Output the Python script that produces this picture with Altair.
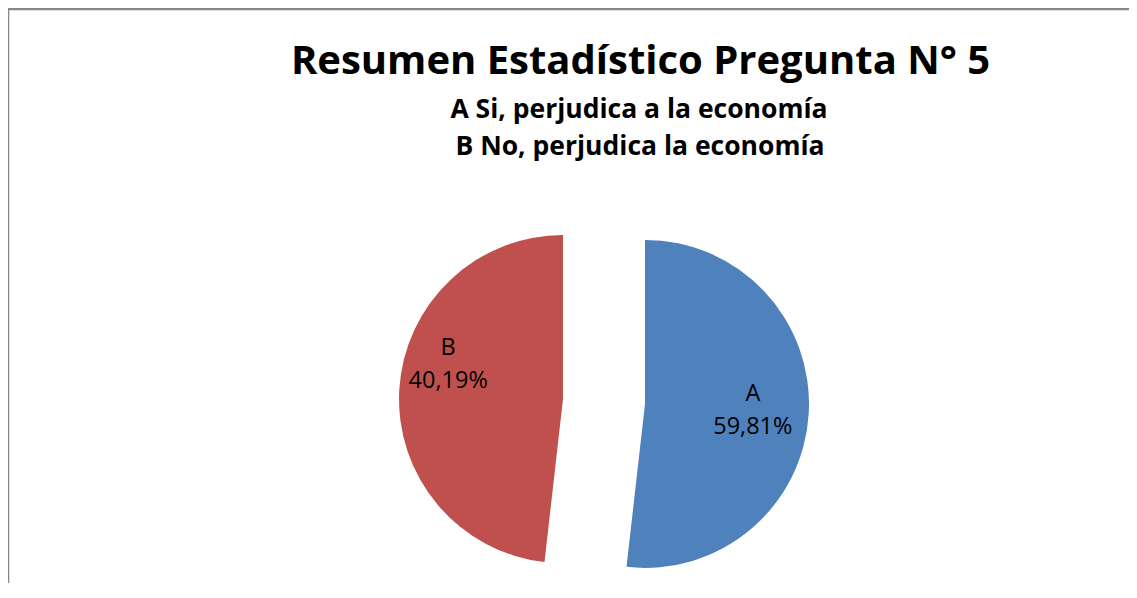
import altair as alt
import pandas as pd

# Data
categories = ["A", "B"]
shares = [51.8, 48.2]            # slice sizes as drawn (share of the circle)
pct_labels = ["59,81%", "40,19%"]  # label texts as printed
colors = ["#4F81BD", "#C0504D"]

title = "Resumen Estadístico Pregunta N° 5"
subtitle_lines = ["A Si, perjudica a la economía", "B No, perjudica la economía"]

W, H = 1121, 575
CX, CY = 596, 393.5
R = 164
EXPLODE = {"A": (41, 2.4), "B": (-41, -2.4)}
LABEL_ADJ = {"A": (0, -16), "B": (5, -44)}
LABEL_R = {"A": 108, "B": 120}
FONT = "Open Sans"

df = pd.DataFrame({
    "cat": categories,
    "share": shares,
    "label": [f"{c}\n{p}" for c, p in zip(categories, pct_labels)],
    "order": [0, 1],
})

base = alt.Chart(df)
color = alt.Color("cat:N", scale=alt.Scale(domain=categories, range=colors), legend=None)
theta = alt.Theta("share:Q", stack=True)

layers = []
for cat in categories:
    ox, oy = EXPLODE[cat]
    sel = alt.datum.cat == cat
    arc = base.mark_arc(radius=R, xOffset=ox, yOffset=oy).encode(
        theta=theta,
        color=color,
        order=alt.Order("order:Q"),
        opacity=alt.condition(sel, alt.value(1), alt.value(0)),
        x=alt.value(CX),
        y=alt.value(CY),
    )
    ax, ay = LABEL_ADJ[cat]
    txt = base.mark_text(
        radius=LABEL_R[cat], lineBreak="\n", font=FONT, fontSize=23.5,
        lineHeight=33, color="#000000", align="center", baseline="middle",
        dx=ox + ax, dy=oy + ay,
    ).encode(
        theta=theta,
        text="label:N",
        order=alt.Order("order:Q"),
        opacity=alt.condition(sel, alt.value(1), alt.value(0)),
        x=alt.value(CX),
        y=alt.value(CY),
    )
    layers += [arc, txt]

one = pd.DataFrame({"t": [title]})
title_mark = alt.Chart(one).mark_text(
    font=FONT, fontSize=40, fontWeight="bold", color="#000000",
    align="center", baseline="alphabetic",
).encode(text="t:N", x=alt.value(632.5), y=alt.value(66))

sub1 = alt.Chart(pd.DataFrame({"t": [subtitle_lines[0]]})).mark_text(
    font=FONT, fontSize=26.5, fontWeight="bold", color="#000000",
    align="center", baseline="alphabetic",
).encode(text="t:N", x=alt.value(631), y=alt.value(109.7))
sub2 = alt.Chart(pd.DataFrame({"t": [subtitle_lines[1]]})).mark_text(
    font=FONT, fontSize=26.5, fontWeight="bold", color="#000000",
    align="center", baseline="alphabetic",
).encode(text="t:N", x=alt.value(632), y=alt.value(147))

frame_top = alt.Chart(one).mark_rule(color="#868686", strokeWidth=2.5).encode(
    x=alt.value(0), x2=alt.value(W), y=alt.value(1))
frame_left = alt.Chart(one).mark_rule(color="#868686", strokeWidth=2.5).encode(
    x=alt.value(0), y=alt.value(0), y2=alt.value(H))

chart = alt.layer(*layers, title_mark, sub1, sub2, frame_top, frame_left).properties(
    width=W, height=H, padding=0,
    autosize=alt.AutoSizeParams(type="none"),
).configure_view(stroke=None)

chart.save("out.html", embed_options={"renderer": "svg", "actions": False})
